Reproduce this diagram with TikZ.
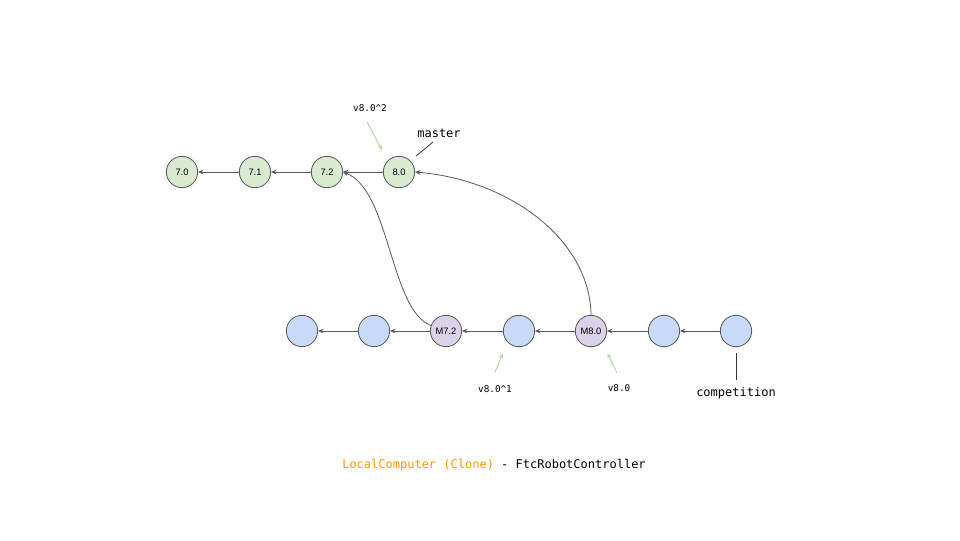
\documentclass[tikz,border=0pt]{standalone}
\usepackage{fontspec}
\setmainfont{Liberation Sans}
\newfontfamily\monof{DejaVu Sans Mono}
\usetikzlibrary{arrows.meta}
\definecolor{gfill}{HTML}{D9EAD3}
\definecolor{bfill}{HTML}{C9DAF8}
\definecolor{pfill}{HTML}{D9D2E9}
\definecolor{edge}{HTML}{595959}
\definecolor{garrow}{HTML}{B6D7A8}
\definecolor{orng}{HTML}{FF9900}
\begin{document}
\begin{tikzpicture}[x=0.75pt,y=-0.75pt,
  commit/.style={circle,draw=edge,line width=0.6pt,minimum size=23.5pt,inner sep=0pt,font=\fontsize{7}{8}\selectfont},
  gc/.style={commit,fill=gfill},
  bc/.style={commit,fill=bfill},
  pc/.style={commit,fill=pfill},
  link/.style={draw=edge,line width=0.6pt,-{Stealth[length=4pt,width=3.5pt]}},
  tagarrow/.style={draw=garrow,line width=0.8pt,shorten >=9pt,-{Stealth[length=4pt,width=3.5pt]}},
  tagtxt/.style={font=\monof\fontsize{7}{8}\selectfont},
  brtxt/.style={font=\monof\fontsize{9}{10}\selectfont},
  brline/.style={draw=black!80,line width=0.6pt}]
\useasboundingbox (0,0) rectangle (960,540);
% top row
\node[gc] (c70) at (182,172) {7.0};
\node[gc] (c71) at (255,172) {7.1};
\node[gc] (c72) at (327,172) {7.2};
\node[gc] (c80) at (399,172) {8.0};
% bottom row
\node[bc] (b1) at (302,331) {};
\node[bc] (b2) at (374,331) {};
\node[pc] (m72) at (446,331) {M7.2};
\node[bc] (b4) at (519,331) {};
\node[pc] (m80) at (591,331) {M8.0};
\node[bc] (b6) at (664,331) {};
\node[bc] (b7) at (736,331) {};
% links
\draw[link] (c71) -- (c70);
\draw[link] (c72) -- (c71);
\draw[link] (c80) -- (c72);
\draw[link] (b2) -- (b1);
\draw[link] (m72) -- (b2);
\draw[link] (b4) -- (m72);
\draw[link] (m80) -- (b4);
\draw[link] (b6) -- (m80);
\draw[link] (b7) -- (b6);
\draw[link] (m72.160) .. controls (390,310) and (390,190) .. (c72.east);
\draw[link] (m80.north) .. controls (590,240) and (510,180) .. (c80.east);
% tags
\node[tagtxt] (t2) at (370,108) {v8.0\textasciicircum 2};
\coordinate (t2s) at (367,122);
\draw[tagarrow] (t2s) -- (c80.north west);
\node[tagtxt] (t1) at (495,389) {v8.0\textasciicircum 1};
\coordinate (t1s) at (495,372);
\draw[tagarrow] (t1s) -- (b4.south west);
\node[tagtxt] (t0) at (619,388) {v8.0};
\coordinate (t0s) at (617,373);
\draw[tagarrow] (t0s) -- (m80.south east);
% branches
\node[brtxt] (mst) at (439,133) {master};
\coordinate (mstA) at (433,142);
\coordinate (mstB) at (416,156);
\draw[brline] (mstA) -- (mstB);
\node[brtxt] (cmp) at (736,393) {competition};
\coordinate (cmpA) at (736,353);
\coordinate (cmpB) at (736,380);
\draw[brline] (cmpA) -- (cmpB);
% title
\node[font=\monof\fontsize{9}{10}\selectfont] (title) at (494,465) {\textcolor{orng}{LocalComputer (Clone)} - FtcRobotController};
\end{tikzpicture}
\end{document}
